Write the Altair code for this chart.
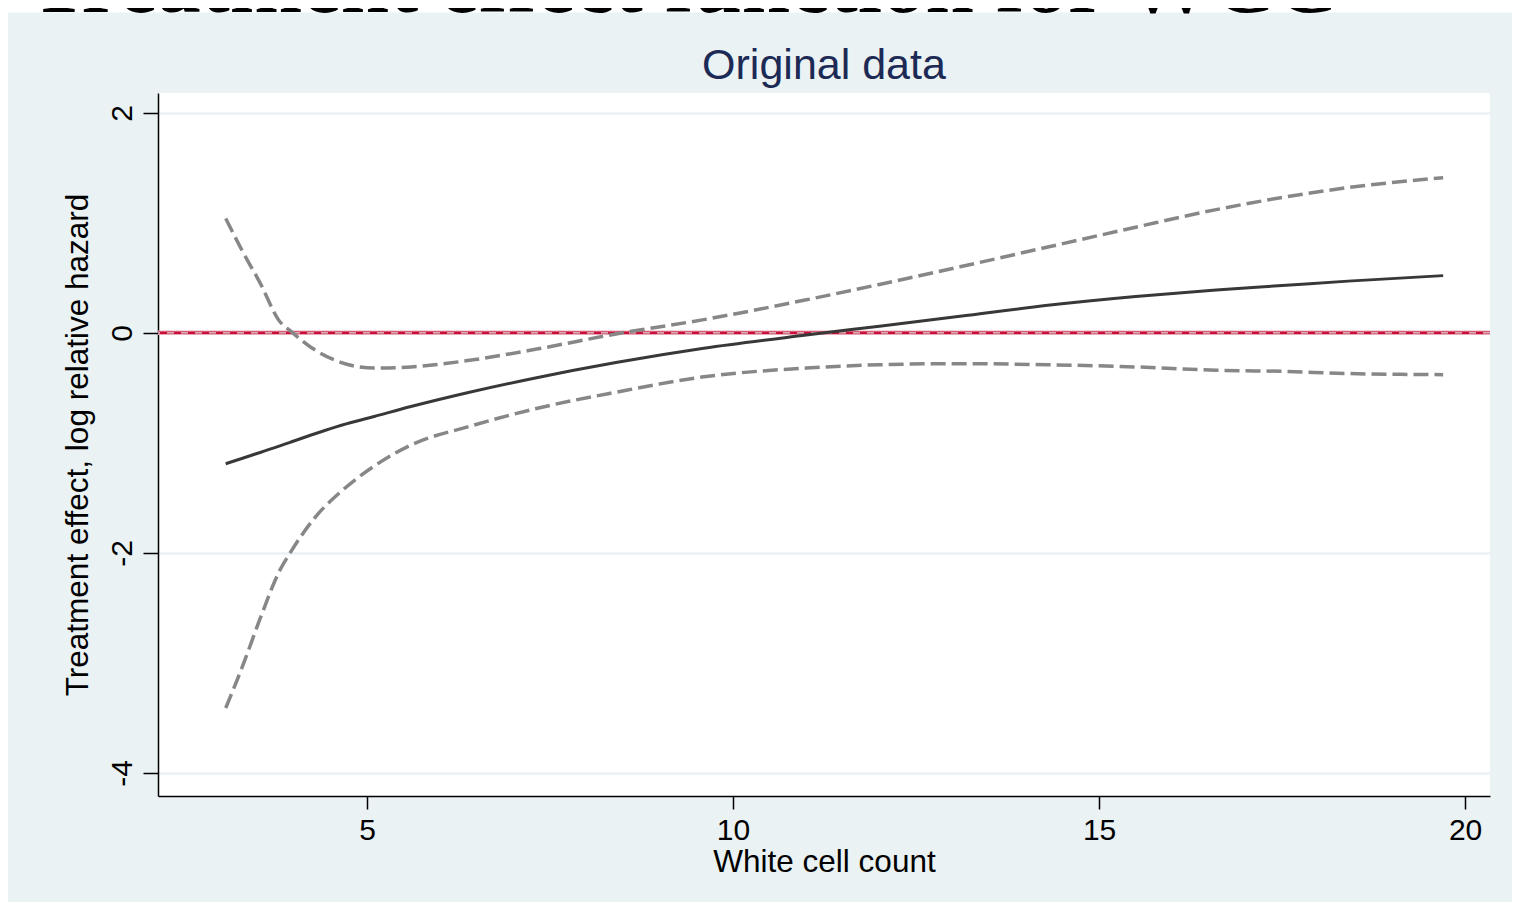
import altair as alt
import pandas as pd

# White cell count grid (x) and the three curves
wcc = [3.07, 3.3, 3.55, 3.8, 3.95, 4.3, 4.65, 5.1, 5.6, 6.4, 7.3, 8.4, 9.6,
       11.0, 12.0, 13.1, 14.3, 15.5, 16.6, 17.5, 18.4, 19.7]
effect = [-1.19, -1.14, -1.085, -1.03, -0.995, -0.915, -0.84, -0.76, -0.67, -0.54,
          -0.41, -0.27, -0.14, -0.02, 0.06, 0.15, 0.25, 0.33, 0.39, 0.43, 0.47, 0.52]
upper = [1.04, 0.74, 0.44, 0.11, 0.02, -0.16, -0.27, -0.32, -0.31, -0.25,
         -0.15, -0.01, 0.12, 0.30, 0.44, 0.60, 0.78, 0.96, 1.12, 1.23, 1.32, 1.41]
lower = [-3.41, -3.03, -2.58, -2.17, -2.00, -1.67, -1.44, -1.21, -1.02, -0.85,
         -0.69, -0.54, -0.40, -0.32, -0.29, -0.28, -0.29, -0.31, -0.34, -0.35, -0.37, -0.38]

x_ticks = [5, 10, 15, 20]
y_ticks = [-4, -2, 0, 2]
ref_line = [0]

main_title = "Treatment effect function for WCC"
sub_title = "Original data"
x_title = "White cell count"
y_title = "Treatment effect, log relative hazard"

BG = "#EAF2F3"
FONT = "Liberation Sans"
W, H = 1332, 703

df = pd.DataFrame({"wcc": wcc, "effect": effect, "upper": upper, "lower": lower})
ref_df = pd.DataFrame({"y": ref_line})
dummy = pd.DataFrame({"a": [0]})

xscale = alt.Scale(domain=[2.145, 20.34], nice=False, zero=False)
yscale = alt.Scale(domain=[-4.21, 2.18], nice=False, zero=False)

xaxis = alt.Axis(values=x_ticks, title=x_title, grid=False, tickSize=13, tickWidth=1.5,
                 tickColor="black", domainColor="black", domainWidth=1.5,
                 labelExpr="'' + datum.value",
                 labelFontSize=30, labelFont=FONT, labelColor="black", labelPadding=6,
                 titleFontSize=31.5, titleFont=FONT, titleFontWeight="normal",
                 titleColor="black", titleX=W / 2, titleY=75,
                 titleBaseline="alphabetic", titleAlign="center")
yaxis = alt.Axis(values=y_ticks, title=y_title, grid=True, gridColor=BG, gridWidth=2.5,
                 tickSize=15, tickWidth=1.5, tickColor="black", domainColor="black",
                 domainWidth=1.5, labelExpr="'' + datum.value",
                 labelFontSize=30, labelFont=FONT, labelColor="black",
                 labelAngle=270, labelAlign="center", labelBaseline="alphabetic",
                 labelPadding=12, titleFontSize=31.5, titleFont=FONT,
                 titleFontWeight="normal", titleColor="black", titleAngle=270,
                 titleX=-71, titleY=H / 2, titleBaseline="alphabetic", titleAlign="center")

base = alt.Chart(df)

axes_layer = base.mark_line(opacity=0).encode(
    x=alt.X("wcc:Q", scale=xscale, axis=xaxis),
    y=alt.Y("effect:Q", scale=yscale, axis=yaxis),
)

# thin white band along the top, where only the foot of the big title shows
top_strip = alt.Chart(dummy).mark_rect(color="white").encode(
    x=alt.value(-150), x2=alt.value(W + 22), y=alt.value(-86), y2=alt.value(-80.5))

big_title = alt.Chart(dummy).mark_text(
    text=main_title, font="Liberation Serif", fontSize=87, fontWeight="bold",
    align="left", baseline="alphabetic", color="black").encode(
    x=alt.value(-128), y=alt.value(-81))

sub = alt.Chart(dummy).mark_text(
    text=sub_title, font=FONT, fontSize=43, align="center", baseline="alphabetic",
    color="#1C2A55").encode(x=alt.value(W / 2), y=alt.value(-14))

ref_pink = alt.Chart(ref_df).mark_rule(color="#E9A7B6", strokeWidth=4.5).encode(
    y=alt.Y("y:Q", scale=yscale))
ref_red = alt.Chart(ref_df).mark_rule(color="#C8103A", strokeWidth=2.5).encode(
    y=alt.Y("y:Q", scale=yscale))
ref_dash = alt.Chart(ref_df).mark_rule(color="#DCDCDC", strokeWidth=1.2,
                                       strokeDash=[7, 7]).encode(
    y=alt.Y("y:Q", scale=yscale))

line_up = base.mark_line(color="#878787", strokeWidth=3.5, strokeDash=[15, 6],
                         interpolate="monotone").encode(
    x=alt.X("wcc:Q", scale=xscale), y=alt.Y("upper:Q", scale=yscale))
line_lo = base.mark_line(color="#878787", strokeWidth=3.5, strokeDash=[15, 6],
                         interpolate="monotone").encode(
    x=alt.X("wcc:Q", scale=xscale), y=alt.Y("lower:Q", scale=yscale))
line_mid = base.mark_line(color="#383838", strokeWidth=3,
                          interpolate="monotone").encode(
    x=alt.X("wcc:Q", scale=xscale), y=alt.Y("effect:Q", scale=yscale))

chart = alt.layer(
    axes_layer, top_strip, big_title, sub, ref_pink, ref_red, ref_dash,
    line_up, line_lo, line_mid
).properties(
    width=W, height=H, autosize="none",
    padding={"left": 150, "top": 85, "right": 22, "bottom": 106},
    background=BG,
).configure_view(fill="white", stroke=None)

chart.save("out.html", embed_options={"renderer": "svg", "actions": False})
